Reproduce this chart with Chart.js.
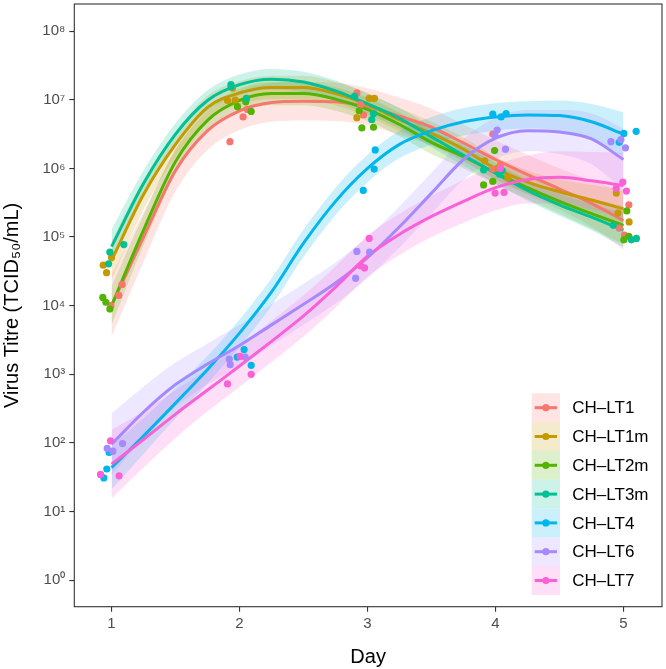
<!DOCTYPE html>
<html><head><meta charset="utf-8">
<script src="https://cdn.jsdelivr.net/npm/chart.js@4"></script>
<style>html,body{margin:0;padding:0;background:#fff}canvas{display:block}</style>
</head><body>
<canvas id="c" width="666" height="669"></canvas>
<script>
// ---- data (log10 titres, TCID50/mL) ----
const strains = ['CH–LT1','CH–LT1m','CH–LT2m','CH–LT3m','CH–LT4','CH–LT6','CH–LT7'];
const colors  = ['#F8766D','#C49A00','#53B400','#00C094','#00B6EB','#A58AFF','#FB61D7'];

// observed points: jittered day and log10 titre
const lt1Day  = [1.082,1.057,0.995, 2.062,2.028,1.925, 2.917,2.969,2.946, 3.979,4.039,3.979, 5.042,4.967,5.008];
const lt1Log  = [4.31,4.15,4.00, 6.86,6.75,6.39, 7.10,6.78,6.93, 6.50,6.06,5.99, 5.47,5.13,5.03];
const lt1mDay = [0.935,0.961,1.000, 1.945,1.906,1.966, 3.013,3.054,2.917, 3.915,4.096,4.018, 4.944,4.957,5.044];
const lt1mLog = [4.59,4.48,4.70, 7.17,6.99,6.995, 7.02,7.02,6.74, 6.11,5.86,6.00, 5.64,5.35,5.22];
const lt2mDay = [0.932,0.956,0.987, 1.984,2.091,2.049, 2.935,2.956,3.047, 3.993,3.979,3.907, 5.026,5.003,5.042];
const lt2mLog = [4.12,4.05,3.95, 6.90,6.83,6.97, 6.84,6.59,6.60, 6.26,5.81,5.76, 5.38,4.96,5.01];
const lt3mDay = [0.987,1.096,0.977, 1.933,2.054,1.935, 2.899,3.047,3.033, 3.907,4.031,4.052, 4.920,5.062,5.101];
const lt3mLog = [4.78,4.89,4.61, 7.22,7.02,7.19, 7.05,6.80,6.71, 5.98,5.92,5.97, 5.17,4.96,4.98];
const lt4Day  = [0.981,0.940,0.963, 2.036,2.091,1.982, 3.060,3.052,2.967, 3.979,4.044,4.083, 5.003,5.099,4.967];
const lt4Log  = [1.86,1.49,1.62, 3.36,3.13,3.25, 6.27,5.99,5.68, 6.79,6.75,6.80, 6.51,6.54,6.38];
const lt6Day  = [0.966,1.086,1.010, 1.920,1.927,2.044, 2.917,3.016,2.907, 4.013,3.997,4.078, 4.902,5.016,4.980];
const lt6Log  = [1.92,1.99,1.88, 3.22,3.14,3.25, 4.79,4.78,4.40, 6.56,6.48,6.28, 6.39,6.30,6.42];
const lt7Day  = [0.992,0.914,1.059, 2.005,1.906,2.091, 3.013,2.946,2.977, 4.036,3.997,4.067, 4.995,5.023,4.943];
const lt7Log  = [2.03,1.54,1.52, 3.26,2.86,3.00, 4.98,4.58,4.55, 6.00,5.64,5.65, 5.80,5.67,5.71];

// smoothed (loess) curves, log10 titre
const fitDays = [1,1.25,1.5,1.75,2,2.25,2.5,2.75,3,3.25,3.5,3.75,4,4.25,4.5,4.75,5];
const lt1Fit  = [4.00,5.00,5.97,6.55,6.84,6.96,6.98,6.97,6.90,6.76,6.60,6.37,6.13,5.91,5.70,5.49,5.24];
const lt1mFit = [4.66,5.62,6.35,6.89,7.10,7.18,7.18,7.09,6.93,6.71,6.51,6.28,6.00,5.80,5.66,5.54,5.41];
const lt2mFit = [4.00,5.10,6.10,6.70,6.99,7.09,7.09,7.01,6.86,6.64,6.38,6.17,5.94,5.72,5.52,5.34,5.17];
const lt3mFit = [4.86,5.78,6.50,6.99,7.22,7.30,7.26,7.13,6.94,6.73,6.46,6.19,5.93,5.68,5.47,5.29,5.10];
const lt4Fit  = [1.64,2.10,2.58,3.07,3.60,4.20,4.91,5.52,6.00,6.35,6.55,6.68,6.75,6.78,6.77,6.68,6.50];
const lt6Fit  = [1.98,2.45,2.85,3.15,3.42,3.72,4.02,4.33,4.70,5.15,5.64,6.13,6.44,6.55,6.53,6.43,6.13];
const lt7Fit  = [1.69,2.05,2.42,2.77,3.12,3.48,3.85,4.27,4.72,5.04,5.30,5.52,5.72,5.84,5.87,5.82,5.75];
// confidence band half-widths (log10 units)
const lt1Band  = [0.45,0.36,0.30,0.28,0.28,0.28,0.28,0.28,0.27,0.27,0.27,0.27,0.28,0.29,0.30,0.34,0.42];
const lt1mBand = [0.28,0.22,0.18,0.17,0.17,0.17,0.17,0.17,0.17,0.17,0.17,0.17,0.17,0.17,0.18,0.22,0.28];
const lt2mBand = [0.28,0.22,0.18,0.17,0.17,0.17,0.17,0.17,0.17,0.17,0.17,0.17,0.17,0.17,0.18,0.22,0.28];
const lt3mBand = [0.25,0.19,0.16,0.15,0.15,0.15,0.15,0.15,0.15,0.15,0.15,0.15,0.15,0.15,0.16,0.19,0.25];
const lt4Band  = [0.32,0.26,0.22,0.20,0.20,0.20,0.20,0.20,0.20,0.20,0.20,0.20,0.20,0.20,0.22,0.26,0.32];
const lt6Band  = [0.45,0.37,0.32,0.30,0.30,0.30,0.30,0.30,0.30,0.30,0.30,0.30,0.30,0.30,0.32,0.37,0.45];
const lt7Band  = [0.50,0.41,0.35,0.31,0.30,0.30,0.30,0.30,0.30,0.30,0.30,0.31,0.33,0.35,0.38,0.42,0.48];

const xTicks = [1,2,3,4,5];
const yTickExps = [0,1,2,3,4,5,6,7,8];

// ---- build ----
const ptsDay = [lt1Day,lt1mDay,lt2mDay,lt3mDay,lt4Day,lt6Day,lt7Day];
const ptsLog = [lt1Log,lt1mLog,lt2mLog,lt3mLog,lt4Log,lt6Log,lt7Log];
const fits   = [lt1Fit,lt1mFit,lt2mFit,lt3mFit,lt4Fit,lt6Fit,lt7Fit];
const bands  = [lt1Band,lt1mBand,lt2mBand,lt3mBand,lt4Band,lt6Band,lt7Band];

function rgba(hex,a){const n=parseInt(hex.slice(1),16);return `rgba(${n>>16&255},${n>>8&255},${n&255},${a})`;}
const FONT = "'Liberation Sans', Arial, Helvetica, sans-serif";

const datasets = [];
strains.forEach((s,i)=>{
  const n = strains.length;
  datasets.push({type:'line',label:s+' lo',data:fitDays.map((d,k)=>({x:d,y:10**(fits[i][k]-bands[i][k])})),
    borderWidth:0,pointRadius:0,cubicInterpolationMode:'monotone',fill:false,order:200+(n-i)*2});
  datasets.push({type:'line',label:s+' hi',data:fitDays.map((d,k)=>({x:d,y:10**(fits[i][k]+bands[i][k])})),
    borderWidth:0,pointRadius:0,cubicInterpolationMode:'monotone',fill:'-1',backgroundColor:rgba(colors[i],0.2),order:200+(n-i)*2-1});
});
strains.forEach((s,i)=>{
  const n = strains.length;
  datasets.push({type:'line',label:s,data:fitDays.map((d,k)=>({x:d,y:10**fits[i][k]})),
    borderColor:colors[i],borderWidth:3,pointRadius:0,cubicInterpolationMode:'monotone',fill:false,order:100+(n-i)});
});
strains.forEach((s,i)=>{
  const n = strains.length;
  datasets.push({type:'scatter',label:s+' pts',data:ptsDay[i].map((d,k)=>({x:d,y:10**ptsLog[i][k]})),
    backgroundColor:colors[i],borderWidth:0,pointRadius:3.6,order:10+(n-i)});
});

const supDigits = {'0':'⁰','1':'¹','2':'²','3':'³','4':'⁴','5':'⁵','6':'⁶','7':'⁷','8':'⁸','9':'⁹'};

const panelPlugin = {
  id:'panel',
  afterDraw(chart){
    const {ctx,chartArea:a} = chart;
    ctx.save();
    ctx.strokeStyle='#333333';ctx.lineWidth=1.1;
    ctx.strokeRect(a.left,a.top,a.right-a.left,a.bottom-a.top);
    // legend inside panel
    const bx=531.7,bw=28.3,by=393.3,bh=28.8;
    strains.forEach((s,i)=>{
      const y0=by+i*bh, cy=y0+bh/2;
      ctx.fillStyle=rgba(colors[i],0.2);
      ctx.fillRect(bx,y0,bw,bh);
      ctx.strokeStyle=colors[i];ctx.lineWidth=3;
      ctx.beginPath();ctx.moveTo(bx+3,cy);ctx.lineTo(bx+bw-3,cy);ctx.stroke();
      ctx.fillStyle=colors[i];
      ctx.beginPath();ctx.arc(bx+bw/2,cy,3.6,0,Math.PI*2);ctx.fill();
      ctx.fillStyle='#000';ctx.font='17px '+FONT;ctx.textBaseline='middle';ctx.textAlign='left';
      ctx.fillText(s,572.3,cy+1);
    });
    ctx.restore();
  }
};

new Chart(document.getElementById('c'),{
  data:{datasets},
  options:{
    responsive:false,animation:false,
    layout:{padding:{top:1,right:1,left:0,bottom:0}},
    plugins:{legend:{display:false},tooltip:{enabled:false},filler:{propagate:false}},
    scales:{
      x:{type:'linear',min:0.709,max:5.301,
        afterBuildTicks:(ax)=>{ax.ticks=xTicks.map(v=>({value:v}));},
        afterFit:(ax)=>{ax.height=62.3;ax.paddingLeft=0;ax.paddingRight=0;},
        ticks:{color:'#4D4D4D',font:{family:FONT,size:15},padding:3,callback:(v)=>String(v)},
        grid:{drawOnChartArea:false,drawTicks:true,tickLength:5,color:'#333333',lineWidth:1.1},
        border:{display:false},
        title:{display:true,text:'Day',color:'#000',font:{family:FONT,size:20},padding:{top:0,bottom:0}}
      },
      y:{type:'logarithmic',min:10**-0.387,max:10**8.396,
        afterBuildTicks:(ax)=>{ax.ticks=yTickExps.map(e=>({value:10**e}));},
        afterFit:(ax)=>{ax.width=74.3;ax.paddingTop=0;ax.paddingBottom=0;},
        ticks:{color:'#4D4D4D',font:{family:FONT,size:15},padding:4,
          callback:(v)=>'10'+String(Math.round(Math.log10(v))).split('').map(c=>supDigits[c]).join('')},
        grid:{drawOnChartArea:false,drawTicks:true,tickLength:5,color:'#333333',lineWidth:1.1},
        border:{display:false},
        title:{display:true,text:'Virus Titre (TCID₅₀/mL)',color:'#000',font:{family:FONT,size:20},padding:{top:0,bottom:2}}
      }
    }
  },
  plugins:[panelPlugin]
});
</script>
</body></html>
